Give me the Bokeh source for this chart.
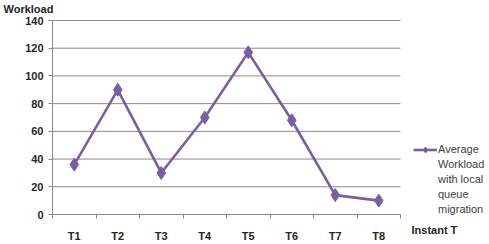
from bokeh.plotting import figure
from bokeh.models import FixedTicker, Label, Legend, LegendItem, Range1d, LinearAxis
from bokeh.embed import file_html
from bokeh.resources import INLINE

categories = ["T1", "T2", "T3", "T4", "T5", "T6", "T7", "T8"]
workload = [36, 90, 30, 70, 117, 68, 14, 10]
y_ticks = [0, 20, 40, 60, 80, 100, 120, 140]
legend_lines = ["Average", "Workload", "with local", "queue", "migration"]

purple = "#7b5e9f"
grid = "#8a8a8a"
txt = "#262626"

W, H = 489, 244
# plot area in pixels (left, right, top, bottom)
L, R, T, B = 52, 400, 20, 214
n = len(categories)
ymax = y_ticks[-1]
sx = (R - L) / n
sy = (B - T) / ymax

xs = [i + 0.5 for i in range(n)]

p = figure(width=W, height=H, output_backend="svg", toolbar_location=None,
           x_axis_location=None, y_axis_location=None,
           x_range=Range1d(-L / sx, n + (W - R) / sx),
           y_range=Range1d(-(H - B) / sy, ymax + T / sy),
           min_border=0)
p.outline_line_color = None
p.background_fill_color = "white"
p.border_fill_color = "white"
p.grid.visible = False

# horizontal grid lines across the category span
p.segment(x0=[0] * len(y_ticks), x1=[n] * len(y_ticks), y0=y_ticks, y1=y_ticks,
          line_color=grid, line_width=1)

r = p.line(xs, workload, line_color=purple, line_width=2.6)
m = p.scatter(xs, workload, marker="diamond", size=13, fill_color=purple, line_color=purple)

xa = LinearAxis(fixed_location=0, bounds=(0, n))
xa.ticker = FixedTicker(ticks=xs, minor_ticks=list(range(n + 1)))
xa.major_label_overrides = {x: c for x, c in zip(xs, categories)}
xa.major_tick_out = 0
xa.major_tick_in = 0
xa.minor_tick_out = 4
xa.minor_tick_in = 0
xa.minor_tick_line_color = grid
xa.axis_line_color = grid
xa.major_label_standoff = 11
xa.major_label_text_font = "Liberation Sans"
xa.major_label_text_font_style = "bold"
xa.major_label_text_font_size = "11px"
xa.major_label_text_color = txt
p.add_layout(xa, "below")

ya = LinearAxis(fixed_location=0, bounds=(0, ymax))
ya.ticker = FixedTicker(ticks=y_ticks)
ya.minor_tick_line_color = None
ya.major_tick_out = 4
ya.major_tick_in = 0
ya.major_tick_line_color = grid
ya.axis_line_color = grid
ya.major_label_standoff = 5
ya.major_label_text_font = "Liberation Sans"
ya.major_label_text_font_style = "bold"
ya.major_label_text_font_size = "11px"
ya.major_label_text_color = txt
p.add_layout(ya, "left")

p.add_layout(Label(x=3, y=H - 2, x_units="screen", y_units="screen", text="Workload",
                   text_font="Liberation Sans", text_font_style="bold", text_font_size="11px",
                   text_color=txt, text_baseline="top"))
p.add_layout(Label(x=411, y=H - 223, x_units="screen", y_units="screen", text="Instant T",
                   text_font="Liberation Sans", text_font_style="bold", text_font_size="11px",
                   text_color=txt, text_baseline="top"))

dummies = [p.line(x=[], y=[], line_alpha=0) for _ in legend_lines[1:]]
items = [LegendItem(label=legend_lines[0], renderers=[r, m])]
items += [LegendItem(label=t, renderers=[d]) for t, d in zip(legend_lines[1:], dummies)]
legend = Legend(items=items, location=(413, H - 216.5), padding=0, margin=0, spacing=0,
                glyph_width=24, glyph_height=15, label_height=15, label_standoff=1,
                label_text_font="Liberation Sans", label_text_font_size="11px",
                label_text_color="#404040", border_line_color=None, background_fill_alpha=0)
p.add_layout(legend)

open("out.html", "w").write(file_html(p, INLINE))
